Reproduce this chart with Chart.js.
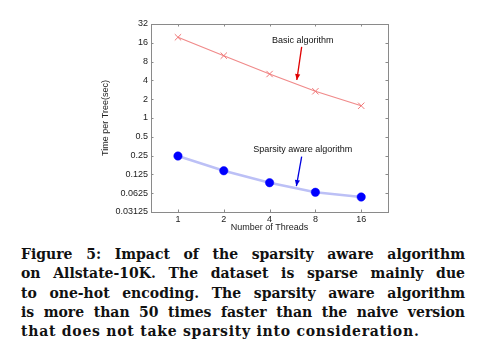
<!DOCTYPE html>
<html>
<head>
<meta charset="utf-8">
<script src="https://cdn.jsdelivr.net/npm/chart.js@4/dist/chart.umd.min.js"></script>
<style>
  html, body { margin: 0; padding: 0; background: #fff; }
  #wrap { position: relative; width: 499px; height: 360px; overflow: hidden; }
  #chartBox { position: absolute; left: 0; top: 0; width: 499px; height: 236px; }
  #caption { position: absolute; left: 21px; top: 245px; width: 444px;
    font-family: "DejaVu Serif", serif; font-weight: bold; font-size: 14px; color: #111; }
  #caption div { text-align: justify; text-align-last: justify; line-height: 19.3px; height: 19.3px; white-space: nowrap; }
  #caption div.last { text-align-last: left; letter-spacing: 0.75px; }
</style>
</head>
<body>
<div id="wrap">
  <div id="chartBox"><canvas id="c"></canvas></div>
  <div id="caption">
    <div>Figure 5: Impact of the sparsity aware algorithm</div>
    <div>on Allstate-10K. The dataset is sparse mainly due</div>
    <div>to one-hot encoding. The sparsity aware algorithm</div>
    <div>is more than 50 times faster than the naive version</div>
    <div class="last">that does not take sparsity into consideration.</div>
  </div>
</div>
<script>
// ---- data ----
const threads = [1, 2, 4, 8, 16];
const basicTime = [19.6, 9.95, 5.06, 2.68, 1.57];
const sparseTime = [0.246, 0.143, 0.092, 0.0646, 0.0543];
const xTickValues = [1, 2, 4, 8, 16];
const yTickValues = [0.03125, 0.0625, 0.125, 0.25, 0.5, 1, 2, 4, 8, 16, 32];
const yTickLabels = ['0.03125', '0.0625', '0.125', '0.25', '0.5', '1', '2', '4', '8', '16', '32'];
const xAxisTitle = 'Number of Threads';
const yAxisTitle = 'Time per Tree(sec)';
const seriesNames = ['Basic algorithm', 'Sparsity aware algorithm'];
// annotation anchors in data units: [textX, textY, arrowFromX, arrowFromY, arrowToX, arrowToY]
const basicNote = [6.6, 17.7, 6.5, 13.8, 6.04, 4.06];
const sparseNote = [6.6, 0.308, 6.5, 0.24, 6.0, 0.0814];

const frameColor = '#8a8a8a';
const tickFont = { family: 'Liberation Sans, Arial, sans-serif', size: 9 };

const framePlugin = {
  id: 'frame',
  afterDatasetsDraw(chart) {
    const { ctx, chartArea: a, scales } = chart;
    ctx.save();
    ctx.strokeStyle = frameColor;
    ctx.lineWidth = 1;
    ctx.strokeRect(Math.round(a.left) + 0.5, Math.round(a.top) + 0.5,
      Math.round(a.right - a.left), Math.round(a.bottom - a.top));
    // inside tick marks
    const tl = 2.5;
    ctx.beginPath();
    xTickValues.forEach(v => {
      const px = Math.round(scales.x.getPixelForValue(v)) + 0.5;
      ctx.moveTo(px, a.bottom); ctx.lineTo(px, a.bottom - tl);
      ctx.moveTo(px, a.top); ctx.lineTo(px, a.top + tl);
    });
    yTickValues.forEach(v => {
      const py = Math.round(scales.y.getPixelForValue(v)) + 0.5;
      ctx.moveTo(a.left, py); ctx.lineTo(a.left + tl, py);
      ctx.moveTo(a.right, py); ctx.lineTo(a.right - tl, py);
    });
    ctx.stroke();

    // annotations
    const drawNote = (note, text, color) => {
      const sx = scales.x, sy = scales.y;
      ctx.fillStyle = '#111';
      ctx.font = '9px "Liberation Sans", Arial, sans-serif';
      ctx.textAlign = 'center';
      ctx.textBaseline = 'middle';
      ctx.fillText(text, sx.getPixelForValue(note[0]), sy.getPixelForValue(note[1]));
      const x1 = sx.getPixelForValue(note[2]), y1 = sy.getPixelForValue(note[3]);
      const x2 = sx.getPixelForValue(note[4]), y2 = sy.getPixelForValue(note[5]);
      ctx.strokeStyle = color; ctx.fillStyle = color; ctx.lineWidth = 1.3;
      ctx.beginPath(); ctx.moveTo(x1, y1); ctx.lineTo(x2, y2); ctx.stroke();
      const ang = Math.atan2(y2 - y1, x2 - x1);
      const L = 6, W = 2.6;
      ctx.beginPath();
      ctx.moveTo(x2, y2);
      ctx.lineTo(x2 - L * Math.cos(ang) + W * Math.sin(ang), y2 - L * Math.sin(ang) - W * Math.cos(ang));
      ctx.lineTo(x2 - L * Math.cos(ang) - W * Math.sin(ang), y2 - L * Math.sin(ang) + W * Math.cos(ang));
      ctx.closePath(); ctx.fill();
    };
    drawNote(basicNote, seriesNames[0], '#e00000');
    drawNote(sparseNote, seriesNames[1], '#0000e0');
    ctx.restore();
  }
};

new Chart(document.getElementById('c'), {
  type: 'line',
  data: {
    datasets: [
      {
        label: seriesNames[0],
        data: threads.map((t, i) => ({ x: t, y: basicTime[i] })),
        borderColor: '#f08a8a',
        borderWidth: 1.2,
        pointStyle: 'crossRot',
        pointRadius: 4.5,
        pointBorderColor: '#f07878',
        pointBorderWidth: 1,
        tension: 0,
        fill: false
      },
      {
        label: seriesNames[1],
        data: threads.map((t, i) => ({ x: t, y: sparseTime[i] })),
        borderColor: '#bcc0f6',
        borderWidth: 2.5,
        pointStyle: 'circle',
        pointRadius: 4.2,
        pointBackgroundColor: '#0000ff',
        pointBorderColor: '#0000ff',
        pointBorderWidth: 0.5,
        tension: 0,
        fill: false
      }
    ]
  },
  options: {
    responsive: true,
    maintainAspectRatio: false,
    animation: false,
    devicePixelRatio: 1,
    layout: { padding: { left: 100, right: 111, top: 24, bottom: 3 } },
    plugins: { legend: { display: false }, tooltip: { enabled: false } },
    scales: {
      x: {
        type: 'logarithmic',
        min: 0.665, max: 24,
        afterBuildTicks: s => { s.ticks = xTickValues.map(v => ({ value: v })); },
        ticks: { color: '#222', font: tickFont, padding: 2, maxRotation: 0, autoSkip: false,
          callback: v => String(v) },
        grid: { display: false, drawTicks: false },
        border: { display: false },
        title: { display: true, text: xAxisTitle, color: '#222', font: tickFont, padding: { top: 1, bottom: 0 } },
        afterFit: s => { s.height = 21; }
      },
      y: {
        type: 'logarithmic',
        min: 0.03125, max: 32,
        afterBuildTicks: s => { s.ticks = yTickValues.map(v => ({ value: v })); },
        ticks: { color: '#222', font: tickFont, padding: 3, autoSkip: false,
          callback: (v, i) => yTickLabels[yTickValues.indexOf(v)] ?? '' },
        grid: { display: false, drawTicks: false },
        border: { display: false },
        title: { display: true, text: yAxisTitle, color: '#222', font: tickFont, padding: 0 },
        afterFit: s => { s.width = 51; }
      }
    }
  },
  plugins: [framePlugin]
});
</script>
</body>
</html>
